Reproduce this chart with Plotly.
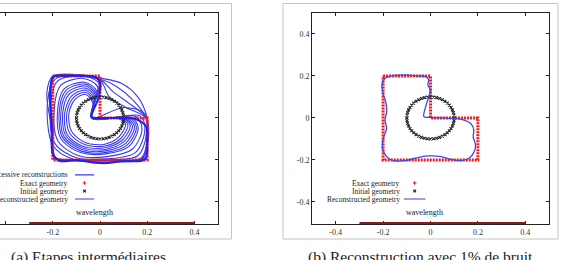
import plotly.graph_objects as go

# ---------------- data ----------------
TICKS = [-0.4, -0.2, 0.0, 0.2, 0.4]
TICK_TEXT = ["-0.4", "-0.2", "0", "0.2", "0.4"]

EXACT_X = [-0.2, 0.0, 0.0, 0.2, 0.2, -0.2, -0.2]
EXACT_Y = [0.2, 0.2, 0.0, 0.0, -0.2, -0.2, 0.2]

INIT_X = [0.1, 0.0991, 0.0966, 0.0924, 0.0866, 0.0793, 0.0707, 0.0609, 0.05, 0.0383, 0.0259, 0.0131,
          0.0, -0.0131, -0.0259, -0.0383, -0.05, -0.0609, -0.0707, -0.0793, -0.0866, -0.0924, -0.0966, -0.0991,
          -0.1, -0.0991, -0.0966, -0.0924, -0.0866, -0.0793, -0.0707, -0.0609, -0.05, -0.0383, -0.0259, -0.0131,
          0.0, 0.0131, 0.0259, 0.0383, 0.05, 0.0609, 0.0707, 0.0793, 0.0866, 0.0924, 0.0966, 0.0991]
INIT_Y = [0.0, 0.0131, 0.0259, 0.0383, 0.05, 0.0609, 0.0707, 0.0793, 0.0866, 0.0924, 0.0966, 0.0991,
          0.1, 0.0991, 0.0966, 0.0924, 0.0866, 0.0793, 0.0707, 0.0609, 0.05, 0.0383, 0.0259, 0.0131,
          0.0, -0.0131, -0.0259, -0.0383, -0.05, -0.0609, -0.0707, -0.0793, -0.0866, -0.0924, -0.0966, -0.0991,
          -0.1, -0.0991, -0.0966, -0.0924, -0.0866, -0.0793, -0.0707, -0.0609, -0.05, -0.0383, -0.0259, -0.0131]

# reconstruction with 1% noise (panel b)
REC_X = [-0.203, -0.205, -0.192, -0.164, -0.108, -0.053, -0.018, -0.008, -0.011, 0.0,
         -0.007, -0.018, -0.028, -0.004, 0.044, 0.1, 0.142, 0.169, 0.183, 0.18,
         0.19, 0.183, 0.163, 0.128, 0.086, 0.044, -0.011, -0.067, -0.108, -0.157,
         -0.185, -0.203, -0.199, -0.185, -0.192, -0.185, -0.189, -0.199, -0.203]
REC_Y = [0.133, 0.157, 0.189, 0.2, 0.205, 0.2, 0.197, 0.181, 0.157, 0.133,
         0.101, 0.062, 0.006, 0.003, 0.0, -0.002, -0.01, -0.025, -0.057, -0.089,
         -0.129, -0.164, -0.192, -0.203, -0.197, -0.184, -0.181, -0.192, -0.203, -0.203,
         -0.184, -0.144, -0.097, -0.049, -0.010, 0.03, 0.077, 0.109, 0.133]

# successive reconstructions (panel a)
SUCC_X = [
    [-0.035, -0.03, -0.06, -0.105, -0.132, -0.12, -0.06, 0.02, 0.08, 0.108, 0.07, -0.035],
    [-0.035, -0.028, -0.06, -0.112, -0.141, -0.129, -0.065, 0.02, 0.088, 0.118, 0.08, -0.035],
    [-0.035, -0.025, -0.06, -0.12, -0.15, -0.138, -0.07, 0.02, 0.095, 0.128, 0.09, -0.035],
    [-0.035, -0.022, -0.061, -0.13, -0.158, -0.145, -0.073, 0.022, 0.103, 0.137, 0.1, -0.035],
    [-0.035, -0.02, -0.062, -0.138, -0.166, -0.152, -0.076, 0.024, 0.11, 0.146, 0.11, -0.035],
    [-0.035, -0.017, -0.064, -0.145, -0.173, -0.158, -0.079, 0.027, 0.117, 0.154, 0.12, -0.035],
    [-0.035, -0.014, -0.066, -0.152, -0.18, -0.165, -0.082, 0.03, 0.124, 0.162, 0.13, -0.035],
    [-0.035, -0.01, -0.07, -0.166, -0.194, -0.178, -0.09, 0.03, 0.138, 0.178, 0.15, -0.035],
    [-0.035, -0.005, -0.075, -0.18, -0.21, -0.192, -0.1, 0.03, 0.15, 0.19, 0.17, -0.035],
    [-0.035, 0.0, -0.08, -0.19, -0.222, -0.2, -0.11, 0.03, 0.16, 0.198, 0.19, 0.1, -0.035],
    [0.0, 0.04, 0.11, 0.195, 0.2, 0.18, 0.03, -0.12, -0.195, -0.2, -0.21, -0.19, -0.1, 0.0],
    [0.0, 0.055, 0.125, 0.195, 0.2, 0.178, 0.035, -0.115, -0.192, -0.2, -0.212, -0.192, -0.1, 0.0],
    [0.0, 0.07, 0.14, 0.195, 0.2, 0.175, 0.04, -0.11, -0.19, -0.2, -0.215, -0.195, -0.1, 0.0],
    [0.0, 0.09, 0.16, 0.2, 0.205, 0.18, 0.05, -0.1, -0.19, -0.205, -0.225, -0.2, -0.1, 0.0],
]
SUCC_Y = [
    [0.0, 0.07, 0.112, 0.09, 0.02, -0.065, -0.118, -0.125, -0.09, -0.03, 0.0, 0.0],
    [0.0, 0.08, 0.122, 0.098, 0.02, -0.072, -0.127, -0.134, -0.098, -0.032, 0.0, 0.0],
    [0.0, 0.09, 0.132, 0.105, 0.02, -0.08, -0.136, -0.142, -0.105, -0.035, 0.0, 0.0],
    [0.0, 0.1, 0.142, 0.114, 0.022, -0.085, -0.143, -0.15, -0.112, -0.038, 0.0, 0.0],
    [0.0, 0.11, 0.152, 0.122, 0.025, -0.09, -0.15, -0.157, -0.12, -0.04, 0.0, 0.0],
    [0.0, 0.119, 0.161, 0.13, 0.027, -0.095, -0.158, -0.164, -0.127, -0.042, 0.002, 0.0],
    [0.0, 0.128, 0.17, 0.138, 0.03, -0.1, -0.165, -0.17, -0.134, -0.045, 0.004, 0.0],
    [0.0, 0.148, 0.188, 0.156, 0.04, -0.11, -0.18, -0.184, -0.148, -0.05, 0.008, 0.0],
    [0.0, 0.165, 0.2, 0.175, 0.06, -0.12, -0.19, -0.195, -0.165, -0.06, 0.01, 0.0],
    [0.0, 0.18, 0.205, 0.185, 0.08, -0.13, -0.198, -0.2, -0.18, -0.07, 0.02, 0.05, 0.0],
    [0.18, 0.1, 0.05, 0.0, -0.11, -0.195, -0.205, -0.2, -0.19, -0.04, 0.13, 0.2, 0.2, 0.18],
    [0.183, 0.125, 0.068, 0.0, -0.105, -0.192, -0.203, -0.2, -0.188, -0.045, 0.125, 0.198, 0.202, 0.183],
    [0.185, 0.15, 0.085, 0.0, -0.1, -0.19, -0.2, -0.2, -0.185, -0.05, 0.12, 0.195, 0.203, 0.185],
    [0.19, 0.165, 0.1, 0.0, -0.1, -0.195, -0.21, -0.205, -0.19, -0.05, 0.12, 0.2, 0.207, 0.19],
]

FINAL_X = [-0.2, -0.15, -0.08, -0.02, 0.0, -0.005, -0.035, 0.0, 0.08, 0.15, 0.195, 0.2,
           0.195, 0.17, 0.1, 0.03, -0.03, -0.1, -0.17, -0.2, -0.205, -0.21, -0.2]
FINAL_Y = [0.195, 0.2, 0.2, 0.195, 0.17, 0.1, 0.005, 0.0, 0.0, -0.005, -0.04, -0.12,
           -0.19, -0.205, -0.205, -0.215, -0.212, -0.2, -0.205, -0.17, -0.05, 0.1, 0.195]

WAVE_X = [-0.3, 0.4]
WAVE_Y = [-0.5, -0.5]

# ---------------- style ----------------
W, H = 561, 260
SERIF = "Liberation Serif, Times New Roman, serif"
BLUE = "#3a3af0"
RED = "#f01818"
FRAME = "#222222"

fig = go.Figure()


def line(xs, ys, color, width, xa, ya, shape="spline", dash=None):
    fig.add_trace(go.Scatter(x=xs, y=ys, mode="lines", xaxis=xa, yaxis=ya,
                             line=dict(color=color, width=width, shape=shape,
                                       smoothing=0.9 if shape == "spline" else None, dash=dash),
                             showlegend=False, hoverinfo="skip"))


def markers(xs, ys, color, symbol, size, xa, ya, lw=1.1):
    fig.add_trace(go.Scatter(x=xs, y=ys, mode="markers", xaxis=xa, yaxis=ya,
                             marker=dict(color=color, symbol=symbol, size=size,
                                         line=dict(color=color, width=lw)),
                             showlegend=False, hoverinfo="skip", cliponaxis=False))


# panel (a)
for cx, cy in zip(SUCC_X, SUCC_Y):
    line(cx, cy, BLUE, 1.1, "x", "y")
line(EXACT_X, EXACT_Y, RED, 3, "x", "y", shape="linear", dash="2px,1px")
markers(INIT_X, INIT_Y, "#222222", "x-thin", 2.8, "x", "y")
line(FINAL_X, FINAL_Y, "#2020e8", 2, "x", "y")
line(WAVE_X, WAVE_Y, "#8b1a1a", 2, "x", "y", shape="linear")

# panel (b)
line(EXACT_X, EXACT_Y, RED, 3, "x2", "y2", shape="linear", dash="2px,1px")
markers(INIT_X, INIT_Y, "#222222", "x-thin", 2.8, "x2", "y2")
line(REC_X, REC_Y, "#4545e6", 1.3, "x2", "y2")
line(WAVE_X, WAVE_Y, "#8b1a1a", 2, "x2", "y2", shape="linear")

# legend samples (gnuplot style: text then sample)
LEG_ROWS_A = [-0.271, -0.31, -0.348, -0.386]
LEG_ROWS_B = [-0.31, -0.348, -0.386]
LEG_A = ["Successive reconstructions", "Exact geometry", "Initial geometry", "Reconstructed geometry"]
LEG_B = ["Exact geometry", "Initial geometry", "Reconstructed geometry"]

annotations = []
shapes = []


def legend(xa, ya, rows, labels, xtext, xl0, xl1):
    xm = (xl0 + xl1) / 2
    for r, lab in zip(rows, labels):
        annotations.append(dict(x=xtext, y=r, xref=xa, yref=ya, text=lab, showarrow=False,
                                xanchor="right", yanchor="middle",
                                font=dict(family=SERIF, size=7.5, color="#222")))
        if lab.startswith("Exact"):
            markers([xm], [r], RED, "cross-thin", 2.5, xa, ya)
        elif lab.startswith("Initial"):
            markers([xm], [r], "#222222", "x-thin", 2.8, xa, ya)
        else:
            shapes.append(dict(type="line", xref=xa, yref=ya, x0=xl0, x1=xl1, y0=r, y1=r,
                               line=dict(color=BLUE, width=1.2)))


legend("x", "y", LEG_ROWS_A, LEG_A, -0.127, -0.106, -0.025)
legend("x2", "y2", LEG_ROWS_B, LEG_B, -0.121, -0.1125, -0.021)

for xa, ya in (("x", "y"), ("x2", "y2")):
    annotations.append(dict(x=-0.025, y=-0.452, xref=xa, yref=ya, text="wavelength",
                            showarrow=False, xanchor="center", yanchor="middle",
                            font=dict(family=SERIF, size=8, color="#222")))

# captions
annotations.append(dict(x=88.5 / W, y=1 - 257 / H, xref="paper", yref="paper",
                        text="(a) Etapes intermédiaires", showarrow=False,
                        xanchor="center", yanchor="middle",
                        font=dict(family=SERIF, size=15.5, color="#222")))
annotations.append(dict(x=420 / W, y=1 - 257 / H, xref="paper", yref="paper",
                        text="(b) Reconstruction avec 1% de bruit", showarrow=False,
                        xanchor="center", yanchor="middle",
                        font=dict(family=SERIF, size=15.5, color="#222")))

# outer light-gray sub-figure boxes
shapes.append(dict(type="rect", xref="paper", yref="paper", x0=-0.02, x1=231.5 / W,
                   y0=1 - 239 / H, y1=1 - 3.5 / H, line=dict(color="#c4c4c4", width=1)))
shapes.append(dict(type="rect", xref="paper", yref="paper", x0=283 / W, x1=558 / W,
                   y0=1 - 239 / H, y1=1 - 3.5 / H, line=dict(color="#c4c4c4", width=1)))

tickfont = dict(family=SERIF, size=8, color="#333")
ydom = [1 - 224 / H, 1 - 12.5 / H]
common = dict(showgrid=False, zeroline=False, showline=True, linecolor=FRAME, linewidth=1,
              ticks="inside", ticklen=3, tickcolor=FRAME, tickvals=TICKS, ticktext=TICK_TEXT,
              tickfont=tickfont, automargin=False, fixedrange=True)

fig.update_layout(
    width=W, height=H, autosize=False,
    margin=dict(l=0, r=0, t=0, b=0),
    paper_bgcolor="white", plot_bgcolor="white",
    template="none",
    xaxis=dict(domain=[0, 218 / W], range=[-0.4237, 0.5], anchor="y", mirror="ticks",
               layer="below traces", **common),
    yaxis=dict(domain=ydom, range=[-0.505, 0.502], anchor="x", side="right", mirror=False,
               showticklabels=False, **common),
    xaxis2=dict(domain=[312 / W, 549 / W], range=[-0.5, 0.5], anchor="y2", mirror="ticks",
                layer="below traces", **common),
    yaxis2=dict(domain=ydom, range=[-0.505, 0.502], anchor="x2", mirror="ticks", **common),
    annotations=annotations,
    shapes=shapes,
    showlegend=False,
)

fig.write_html("out.html")
